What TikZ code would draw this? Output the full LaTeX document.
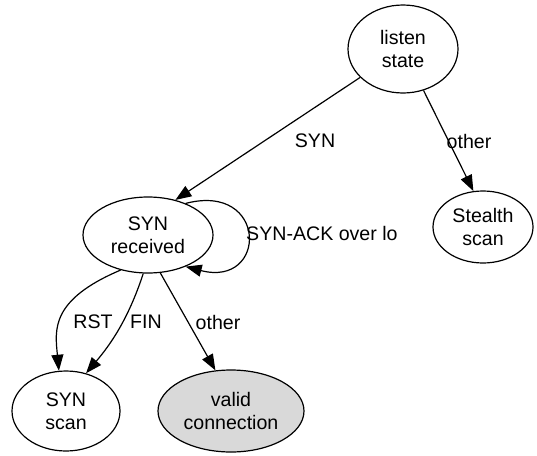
\documentclass[tikz,border=0pt]{standalone}
\usepackage{fontspec}
\setmainfont{Liberation Sans}
\usetikzlibrary{shapes.geometric,arrows.meta}
\begin{document}
\begin{tikzpicture}[x=1pt,y=-1pt,
  state/.style={draw,ellipse,line width=1.2pt,inner sep=0pt,align=center,
    font=\fontsize{19.6}{22.5}\selectfont},
  edge/.style={draw,line width=1.2pt,-{Triangle[length=16pt,width=12pt]}},
  lbl/.style={font=\fontsize{19.6}{22.5}\selectfont,inner sep=1pt}]
\useasboundingbox (0,0) rectangle (537,455);
\node[state,minimum width=110pt,minimum height=88pt] (listen) at (403,49) {listen\\state};
\node[state,minimum width=100pt,minimum height=72pt] (stealth) at (483,227) {Stealth\\scan};
\node[state,minimum width=130pt,minimum height=76pt] (recv) at (148,235) {SYN\\received};
\node[state,minimum width=108pt,minimum height=80pt] (synscan) at (66,411) {SYN\\scan};
\node[state,fill=black!15,minimum width=146pt,minimum height=82pt] (valid) at (231,411) {valid\\connection};

\draw[edge] (listen) -- (recv.52);
\node[lbl] (lsyn) at (315,141) {SYN};
\draw[edge] (listen) -- (stealth.105);
\node[lbl] (loth) at (469,141) {other};
\draw[edge] (recv.40) .. controls (268,182) and (268,288) .. (recv.-40);
\node[lbl,anchor=west] (lack) at (245,233) {SYN-ACK over lo};
\draw[edge] (recv.-128) .. controls (50,300) and (55,330) .. (synscan.100);
\node[lbl] (lrst) at (93,322) {RST};
\draw[edge] (recv.-97) .. controls (128,320) and (110,345) .. (synscan.62);
\node[lbl] (lfin) at (146,322) {FIN};
\draw[edge] (recv.-72) -- (valid.111);
\node[lbl] (lvoth) at (218,322) {other};
\end{tikzpicture}
\end{document}
